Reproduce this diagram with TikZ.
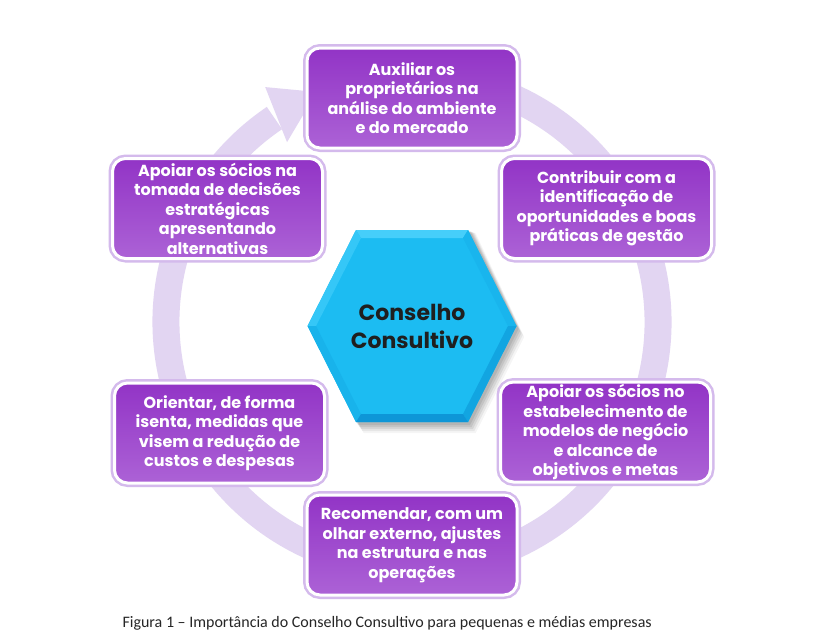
\documentclass[tikz,border=0pt]{standalone}
\usepackage{fontspec}
\setmainfont{Carlito}
\newfontfamily\boxfont{Poppins}
\usetikzlibrary{calc}
\definecolor{ringc}{RGB}{226,213,242}
\definecolor{purA}{RGB}{146,52,198}
\definecolor{purB}{RGB}{172,98,214}
\definecolor{glowc}{RGB}{212,186,236}
\definecolor{cyanM}{RGB}{28,188,242}
\definecolor{cyanL}{RGB}{70,206,250}
\definecolor{cyanD}{RGB}{18,165,225}
\definecolor{cyanDD}{RGB}{14,150,215}
\tikzset{
  card/.style={rounded corners=13pt, minimum width=210pt, minimum height=100pt,
    top color=purA, bottom color=purB, draw=white, line width=3pt,
    preaction={draw=glowc, line width=8pt},
    text=white, font=\boxfont\bfseries\fontsize{16}{19.5}\selectfont,
    align=center, inner sep=0pt},
  hextext/.style={font=\boxfont\bfseries\fontsize{22}{28}\selectfont, text=black!88, align=center},
  caption/.style={anchor=base west, font=\fontsize{16}{18}\selectfont, text=black!85}
}
\begin{document}
\begin{tikzpicture}[x=1pt,y=1pt]
\useasboundingbox (0,0) rectangle (824,-643);
\fill[white] (0,0) rectangle (824,-643);
\coordinate (C) at (412,-322);
% ring arrow
\draw[ringc, line width=27pt] ($(C)+(68:246)$) arc[start angle=68, end angle=-236, radius=246];
\fill[ringc] ($(C)+(122:277)$) -- ($(C)+(112.5:249)$) -- ($(C)+(124.8:219)$) -- cycle;
% boxes
\node[card] (t)  at (412,-98)   {Auxiliar os\\proprietários na\\análise do ambiente\\e do mercado};
\node[card] (ur) at (606.5,-208.5) {Contribuir com a\\identificação de\\oportunidades e boas\\práticas de gestão};
\node[card] (lr) at (605.5,-432) {Apoiar os sócios no\\estabelecimento de\\modelos de negócio\\e alcance de\\objetivos e metas};
\node[card] (b)  at (412,-545)  {Recomendar, com um\\olhar externo, ajustes\\na estrutura e nas\\operações};
\node[card] (ll) at (219.5,-433) {Orientar, de forma\\isenta, medidas que\\visem a redução de\\custos e despesas};
\node[card] (ul) at (217.5,-208.5) {Apoiar os sócios na\\tomada de decisões\\estratégicas\\apresentando\\alternativas};
% hexagon
\coordinate (H) at (412,-326);
\foreach \o/\a in {11/0.04,9/0.06,7/0.07,5/0.08,3/0.08}{
  \fill[black, opacity=\a] ($(H)+(104.5+\o*0.7,-\o)$) -- ($(H)+(56+\o*0.7,96-\o*0.3)$) -- ($(H)+(-56+\o*0.7,96-\o*0.3)$) -- ($(H)+(-104.5+\o*0.7,-\o)$) -- ($(H)+(-56+\o*0.7,-96-\o)$) -- ($(H)+(56+\o*0.7,-96-\o)$) -- cycle;
}
\fill[cyanM] ($(H)+(104.5,0)$) -- ($(H)+(56,96)$) -- ($(H)+(-56,96)$) -- ($(H)+(-104.5,0)$) -- ($(H)+(-56,-96)$) -- ($(H)+(56,-96)$) -- cycle;
% bevels
\fill[cyanL] ($(H)+(56,96)$) -- ($(H)+(-56,96)$) -- ($(H)+(-51,88)$) -- ($(H)+(51,88)$) -- cycle;
\fill[cyanL!60!cyanM] ($(H)+(-56,96)$) -- ($(H)+(-104.5,0)$) -- ($(H)+(-96,0)$) -- ($(H)+(-51,88)$) -- cycle;
\fill[cyanM!70!cyanD] ($(H)+(56,96)$) -- ($(H)+(104.5,0)$) -- ($(H)+(96,0)$) -- ($(H)+(51,88)$) -- cycle;
\fill[cyanD] ($(H)+(104.5,0)$) -- ($(H)+(56,-96)$) -- ($(H)+(51,-88)$) -- ($(H)+(96,0)$) -- cycle;
\fill[cyanM!60!cyanD] ($(H)+(-104.5,0)$) -- ($(H)+(-56,-96)$) -- ($(H)+(-51,-88)$) -- ($(H)+(-96,0)$) -- cycle;
\fill[cyanDD] ($(H)+(56,-96)$) -- ($(H)+(-56,-96)$) -- ($(H)+(-51,-88)$) -- ($(H)+(51,-88)$) -- cycle;
\node[hextext] (hex) at (H) {Conselho\\Consultivo};
% caption
\node[caption] (cap) at (119,-627) {Figura 1 – Importância do Conselho Consultivo para pequenas e médias empresas};
\end{tikzpicture}
\end{document}
